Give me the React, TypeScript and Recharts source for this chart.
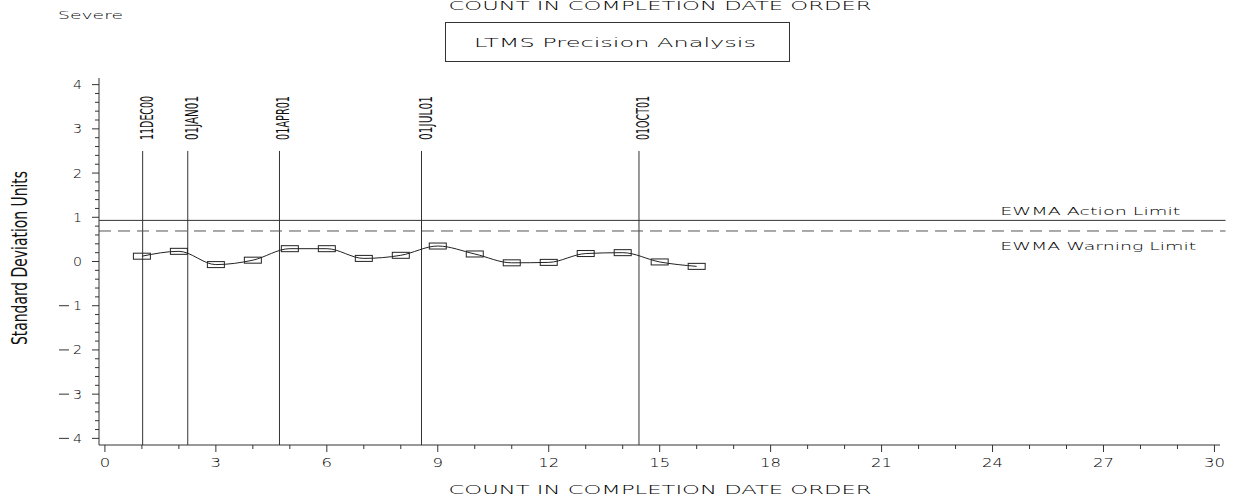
import React from 'react';
import { LineChart, Line, XAxis, YAxis, ReferenceLine } from 'recharts';

// EWMA values in completion order
const counts = [1, 2, 3, 4, 5, 6, 7, 8, 9, 10, 11, 12, 13, 14, 15, 16];
const ewma = [0.12, 0.23, -0.07, 0.03, 0.29, 0.29, 0.07, 0.14, 0.35, 0.17, -0.03, -0.02, 0.18, 0.2, -0.01, -0.11];

// date markers (position on the count axis)
const dateLabels = ['11DEC00', '01JAN01', '01APR01', '01JUL01', '01OCT01'];
const datePositions = [1.02, 2.24, 4.72, 8.56, 14.44];

const actionLimit = 0.93;
const warningLimit = 0.69;

const xMajor = [0, 3, 6, 9, 12, 15, 18, 21, 24, 27, 30];
const yMajor = [-4, -3, -2, -1, 0, 1, 2, 3, 4];

const data = counts.map((c, i) => ({ x: c, y: ewma[i] }));

// minor ticks: every count on x, every 0.2 on y
const xTicks = Array.from({ length: 31 }, (_, i) => i);
const yTicks = Array.from({ length: 41 }, (_, i) => Math.round((-4 + i * 0.2) * 10) / 10);

const INK = '#333';
const FONT = '"DejaVu Sans", sans-serif';
const THIN = 200;
const NARROW = '"Liberation Sans Narrow", "DejaVu Sans Condensed", sans-serif';

const XTick = (props: any) => {
    const { x, y, payload } = props;
    const v = payload.value;
    const major = xMajor.includes(v);
    const s = String(v);
    return (
        <g>
            <line x1={x} x2={x} y1={y} y2={y + (major ? 7 : 4)} stroke={INK} />
            {major && (
                <text x={x} y={y + 22} textAnchor="middle" fontSize={12} fontFamily={FONT} fontWeight={THIN} fill="#000"
                    textLength={s.length * 10.5} lengthAdjust="spacingAndGlyphs">{s}</text>
            )}
        </g>
    );
};

const YTick = (props: any) => {
    const { x, y, payload } = props;
    const v = payload.value;
    const major = yMajor.some(m => Math.abs(m - v) < 1e-6);
    const n = Math.round(v);
    return (
        <g>
            <line x1={x - (major ? 7 : 4)} x2={x} y1={y} y2={y} stroke={INK} />
            {major && (
                <text x={x - 17} y={y + 4.5} textAnchor="end" fontSize={12} fontFamily={FONT} fontWeight={THIN} fill="#000"
                    textLength={9} lengthAdjust="spacingAndGlyphs">{Math.abs(n)}</text>
            )}
            {major && n < 0 && <line x1={x - 40} x2={x - 30} y1={y} y2={y} stroke={INK} />}
        </g>
    );
};

const BoxMarker = (props: any) => {
    const { cx, cy } = props;
    if (cx == null || cy == null) return null;
    return <rect x={cx - 8.5} y={cy - 3} width={17} height={6} fill="none" stroke="#222" strokeWidth={1} />;
};

const DateLabel = (props: any) => {
    const { viewBox, text } = props;
    if (!viewBox) return null;
    const x = viewBox.x + 10;
    const y = viewBox.y - 11;
    return (
        <text x={x} y={y} transform={`rotate(-90 ${x} ${y})`} fontSize={17} fontFamily={NARROW} fill="#111"
            textLength={44} lengthAdjust="spacingAndGlyphs">{text}</text>
    );
};

const LimitLabel = (props: any) => {
    const { viewBox, text, dy, len } = props;
    if (!viewBox) return null;
    const x = viewBox.x + viewBox.width * 0.8;
    return (
        <text x={x} y={viewBox.y + dy} fontSize={11} fontFamily={FONT} fontWeight={THIN} fill="#000"
            textLength={len} lengthAdjust="spacingAndGlyphs">{text}</text>
    );
};

export default function App() {
    return (
        <div style={{ position: 'absolute', left: 0, top: 0, width: 1245, height: 499, background: '#fff' }}>
            <LineChart width={1245} height={499} data={data} margin={{ top: 78, right: 25, bottom: 0, left: 0 }}>
                <XAxis
                    type="number"
                    dataKey="x"
                    domain={[-0.16, 30.15]}
                    ticks={xTicks}
                    interval={0}
                    height={54}
                    tickSize={0}
                    tickMargin={0}
                    tickLine={false}
                    axisLine={{ stroke: INK }}
                    tick={<XTick />}
                    allowDataOverflow
                />
                <YAxis
                    type="number"
                    dataKey="y"
                    domain={[-4.15, 4.15]}
                    ticks={yTicks}
                    interval={0}
                    width={99}
                    tickSize={0}
                    tickMargin={0}
                    tickLine={false}
                    axisLine={{ stroke: INK }}
                    tick={<YTick />}
                    allowDataOverflow
                />
                {datePositions.map((p, i) => (
                    <ReferenceLine
                        key={dateLabels[i]}
                        segment={[{ x: p, y: -4.15 }, { x: p, y: 2.5 }]}
                        stroke={INK}
                        ifOverflow="visible"
                        label={<DateLabel text={dateLabels[i]} />}
                    />
                ))}
                <ReferenceLine
                    segment={[{ x: -0.16, y: actionLimit }, { x: 30.3, y: actionLimit }]}
                    stroke={INK}
                    ifOverflow="visible"
                    label={<LimitLabel text="EWMA Action Limit" dy={-5} len={180} />}
                />
                <ReferenceLine
                    segment={[{ x: -0.16, y: warningLimit }, { x: 30.3, y: warningLimit }]}
                    stroke="#555"
                    strokeDasharray="12 7"
                    ifOverflow="visible"
                    label={<LimitLabel text="EWMA Warning Limit" dy={19} len={196} />}
                />
                <Line
                    type="monotone"
                    dataKey="y"
                    stroke="#222"
                    strokeWidth={1}
                    dot={<BoxMarker />}
                    activeDot={false}
                    isAnimationActive={false}
                />
            </LineChart>
            <svg width={1245} height={499} style={{ position: 'absolute', left: 0, top: 0, pointerEvents: 'none' }}>
                <text x={58} y={19} fontSize={11} fontFamily={FONT} fontWeight={THIN} fill="#000" textLength={65} lengthAdjust="spacingAndGlyphs">Severe</text>
                <text x={660} y={10} textAnchor="middle" fontSize={12} fontFamily={FONT} fontWeight={THIN} fill="#000" textLength={423} lengthAdjust="spacingAndGlyphs">COUNT IN COMPLETION DATE ORDER</text>
                <rect x={445.5} y={22.5} width={344} height={39} fill="none" stroke={INK} />
                <text x={474} y={47} fontSize={13} fontFamily={FONT} fontWeight={THIN} fill="#000" textLength={282} lengthAdjust="spacingAndGlyphs">LTMS Precision Analysis</text>
                <text x={660} y={494} textAnchor="middle" fontSize={12} fontFamily={FONT} fontWeight={THIN} fill="#000" textLength={423} lengthAdjust="spacingAndGlyphs">COUNT IN COMPLETION DATE ORDER</text>
                <text x={27} y={345} transform="rotate(-90 27 345)" fontSize={22} fontFamily={NARROW} fill="#111" textLength={174} lengthAdjust="spacingAndGlyphs">Standard Deviation Units</text>
            </svg>
        </div>
    );
}
